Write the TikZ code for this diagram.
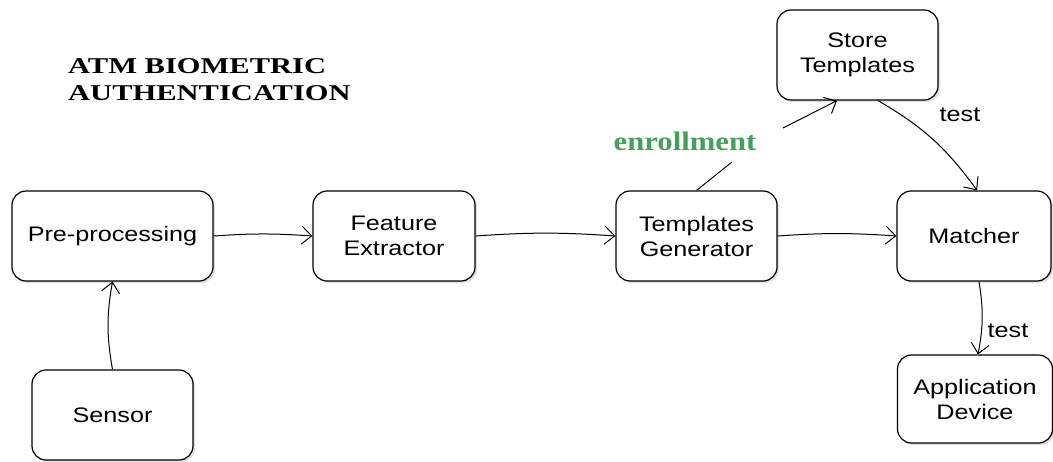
\documentclass[tikz,border=0pt]{standalone}
\usepackage{fontspec}
\setmainfont{Liberation Sans}
\newfontfamily\boxfont[FakeStretch=1.2]{Liberation Sans}
\newfontfamily\titlefont[FakeStretch=1.35]{Liberation Serif}
\newfontfamily\enrfont[FakeStretch=1.15]{Liberation Serif}
\usetikzlibrary{arrows.meta,shadows}
\definecolor{enrgreen}{RGB}{70,160,90}
\begin{document}
\begin{tikzpicture}[x=1pt,y=-1pt,
  blk/.style={draw, line width=1.2pt, rounded corners=14pt, fill=white,
    align=center, font=\boxfont\fontsize{21}{25}\selectfont,
    drop shadow={shadow xshift=2pt, shadow yshift=-2pt, fill=black!25}},
  conn/.style={line width=1pt, -{Straight Barb[length=10pt,width=18pt,line width=1pt]}},
  lbl/.style={font=\boxfont\fontsize{21}{24}\selectfont}]
\useasboundingbox (0,0) rectangle (1053,461);
\node[blk, minimum width=201pt, minimum height=90pt] (pre) at (112.5,236) {Pre-processing};
\node[blk, minimum width=162pt, minimum height=90pt] (fe) at (394,236) {Feature\\Extractor};
\node[blk, minimum width=161pt, minimum height=90pt] (tg) at (696.5,236) {Templates\\Generator};
\node[blk, minimum width=154pt, minimum height=90pt] (mat) at (974,236) {Matcher};
\node[blk, minimum width=161pt, minimum height=90pt] (st) at (857.5,55) {Store\\Templates};
\node[blk, minimum width=161pt, minimum height=90pt] (sen) at (112.5,415) {Sensor};
\node[blk, minimum width=155pt, minimum height=88pt] (app) at (975,399) {Application\\Device};
\node[align=left, anchor=north west, inner sep=0pt, font=\titlefont\bfseries\fontsize{22.6}{27}\selectfont] (title) at (68,58) {ATM BIOMETRIC\\AUTHENTICATION};
\node[font=\enrfont\bfseries\fontsize{26.7}{30}\selectfont, text=enrgreen] (enr) at (685,141) {enrollment};
\coordinate (e1) at (732,162);
\coordinate (e2) at (783,128);
\node[lbl] (t1) at (960,115) {test};
\node[lbl] (t2) at (1008,331) {test};
\draw[conn] (pre.east) to[bend left=4] (fe.west);
\draw[conn] (fe.east) to[bend left=4] (tg.west);
\draw[conn] (tg.east) to[bend left=4] (mat.west);
\draw[conn] (sen.north) to[bend left=10] (pre.south);
\draw[line width=1pt] (tg.north) -- (e1);
\draw[conn] (e2) -- (st.south west -| 837,0);
\draw[conn] (st.south -| 878,0) to[bend left=12] (mat.north -| 977,0);
\draw[conn] (mat.south -| 979,0) to[bend left=10] (app.north -| 978,0);
\end{tikzpicture}
\end{document}
